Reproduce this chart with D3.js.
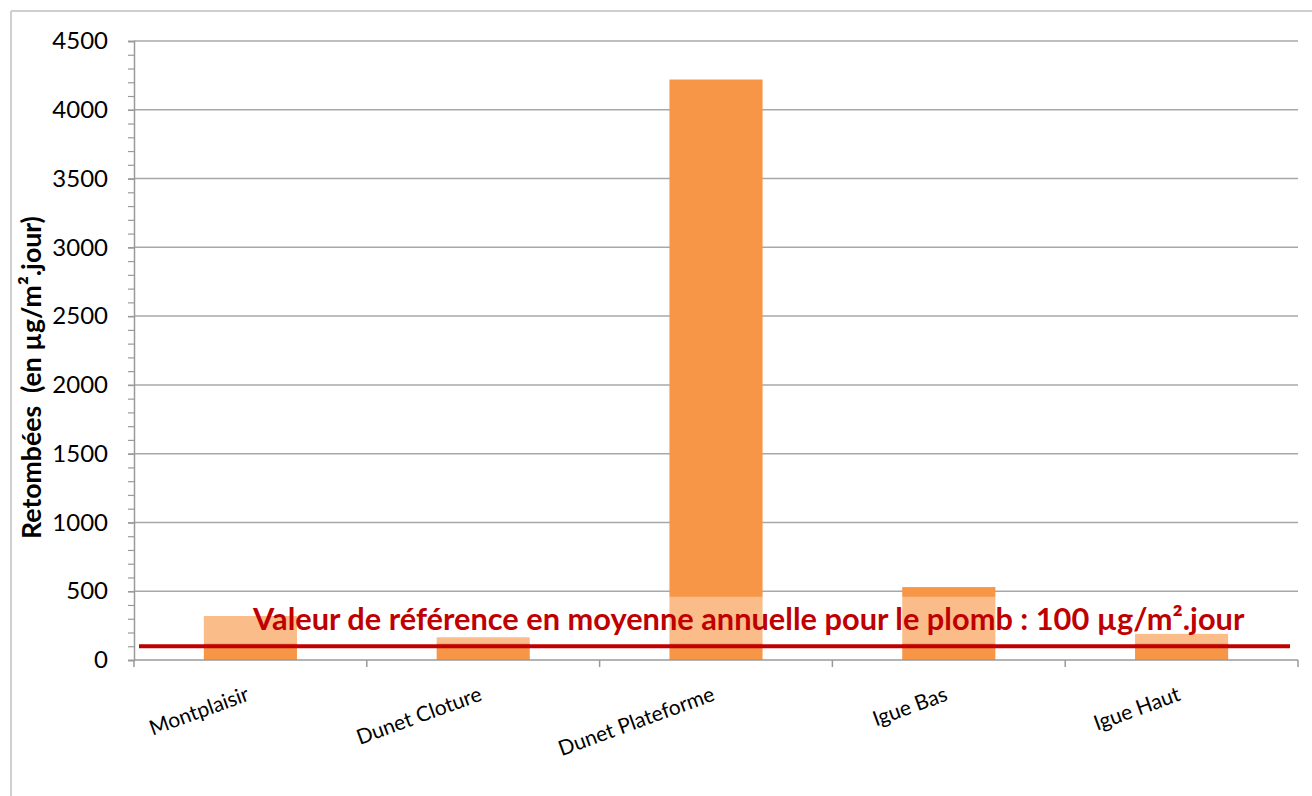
<!DOCTYPE html>
<html>
<head>
<meta charset="utf-8">
<script src="https://cdn.jsdelivr.net/npm/d3@7"></script>
<style>
  body { margin: 0; background: #fff; }
  text { font-family: Lato, "Open Sans", sans-serif; white-space: pre; }
</style>
</head>
<body>
<script>
var sites = ["Montplaisir", "Dunet Cloture", "Dunet Plateforme", "Igue Bas", "Igue Haut"];
var retombees = [320, 165, 4220, 530, 190];
var yTicks = [0, 500, 1000, 1500, 2000, 2500, 3000, 3500, 4000, 4500];
var reference = 100;
var refLabel = "Valeur de référence en moyenne annuelle pour le plomb : 100 µg/m².jour";
var yTitle = "Retombées  (en µg/m².jour)";

buildIt();

function buildIt () {
  var w = 1312;
  var h = 796;
  var left = 134, right = 1298, top = 41, bottom = 660;

  var svg = d3.select("body")
    .append("svg")
    .attr("width", w)
    .attr("height", h);

  // chart area border (left + top visible)
  svg.append("line").attr("x1", 11).attr("x2", w).attr("y1", 11).attr("y2", 11)
    .attr("stroke", "#cfcfcf").attr("stroke-width", 2);
  svg.append("line").attr("x1", 11).attr("x2", 11).attr("y1", 11).attr("y2", h)
    .attr("stroke", "#cfcfcf").attr("stroke-width", 2);

  var xScale = d3.scaleBand()
    .domain(sites)
    .range([left, right])
    .paddingInner(0.6)
    .paddingOuter(0.3);

  var yScale = d3.scaleLinear()
    .domain([0, 4500])
    .range([bottom, top]);

  /* ===== GRID ===== */
  svg.append("g")
    .selectAll("line")
    .data(yTicks.slice(1))
    .enter()
    .append("line")
    .attr("x1", left).attr("x2", right)
    .attr("y1", function (d) { return yScale(d); })
    .attr("y2", function (d) { return yScale(d); })
    .attr("stroke", "#a8a8a8")
    .attr("stroke-width", 1.5);

  /* ===== BARS ===== */
  svg.append("g")
    .selectAll("rect")
    .data(retombees)
    .enter()
    .append("rect")
    .attr("x", function (d, i) { return xScale(sites[i]); })
    .attr("y", function (d) { return yScale(d); })
    .attr("width", xScale.bandwidth())
    .attr("height", function (d) { return bottom - yScale(d); })
    .attr("fill", "#f79646");

  /* ===== AXES ===== */
  var yAxis = d3.axisLeft(yScale)
    .tickValues(yTicks)
    .tickSize(6)
    .tickPadding(20)
    .tickFormat(d3.format("d"));

  var minor = d3.axisLeft(yScale)
    .tickValues(d3.range(0, 4501, 100))
    .tickSize(6)
    .tickFormat("");

  var gy = svg.append("g")
    .attr("transform", "translate(" + left + ",0)")
    .call(minor);
  gy.select(".domain").remove();
  gy.selectAll("line").attr("stroke", "#9a9a9a").attr("stroke-width", 1.2);

  var gy2 = svg.append("g")
    .attr("transform", "translate(" + left + ",0)")
    .call(yAxis);
  gy2.select(".domain").attr("stroke", "#9a9a9a").attr("stroke-width", 1.5);
  gy2.selectAll("line").attr("stroke", "#9a9a9a").attr("stroke-width", 1.5);
  gy2.selectAll("text")
    .attr("font-size", "24px")
    .attr("fill", "#000")
    .style("font-family", "Lato, sans-serif");

  // x axis with boundary ticks
  svg.append("line")
    .attr("x1", left).attr("x2", right)
    .attr("y1", bottom).attr("y2", bottom)
    .attr("stroke", "#9a9a9a").attr("stroke-width", 1.5);
  svg.append("g")
    .selectAll("line")
    .data(d3.range(sites.length + 1))
    .enter()
    .append("line")
    .attr("x1", function (d) { return left + d * (right - left) / sites.length; })
    .attr("x2", function (d) { return left + d * (right - left) / sites.length; })
    .attr("y1", bottom).attr("y2", bottom + 7)
    .attr("stroke", "#9a9a9a").attr("stroke-width", 1.5);

  svg.append("g")
    .selectAll("text")
    .data(sites)
    .enter()
    .append("text")
    .attr("transform", function (d) {
      return "translate(" + (xScale(d) + xScale.bandwidth() / 2) + "," + (bottom + 40) + ") rotate(-20)";
    })
    .attr("text-anchor", "end")
    .attr("font-size", "21px")
    .attr("fill", "#000")
    .text(function (d) { return d; });

  /* ===== Y TITLE ===== */
  var yt = svg.append("text")
    .attr("transform", "translate(41," + ((top + bottom) / 2 + 27) + ") rotate(-90)")
    .attr("text-anchor", "middle")
    .attr("font-size", "22px")
    .attr("font-weight", "bold")
    .attr("fill", "#000")
    .text(yTitle);
  fitWidth(yt, 323, 22);

  /* ===== REFERENCE ===== */
  // translucent text box over the bars
  svg.append("rect")
    .attr("x", 140)
    .attr("width", 1150)
    .attr("y", yScale(460))
    .attr("height", yScale(120) - yScale(460))
    .attr("fill", "#fff")
    .attr("fill-opacity", 0.36);

  var rt = svg.append("text")
    .attr("x", 253)
    .attr("y", yScale(reference) - 16)
    .attr("font-size", "26px")
    .attr("font-weight", "bold")
    .attr("fill", "#c00000")
    .text(refLabel);
  fitWidth(rt, 992, 26);

  svg.append("line")
    .attr("x1", 139).attr("x2", 1290)
    .attr("y1", yScale(reference)).attr("y2", yScale(reference))
    .attr("stroke", "#c00000")
    .attr("stroke-width", 4);

  function fitWidth(sel, target, size) {
    var len = sel.node().getComputedTextLength();
    if (len > 0) sel.attr("font-size", (size * target / len).toFixed(2) + "px");
  }
}
</script>
</body>
</html>
